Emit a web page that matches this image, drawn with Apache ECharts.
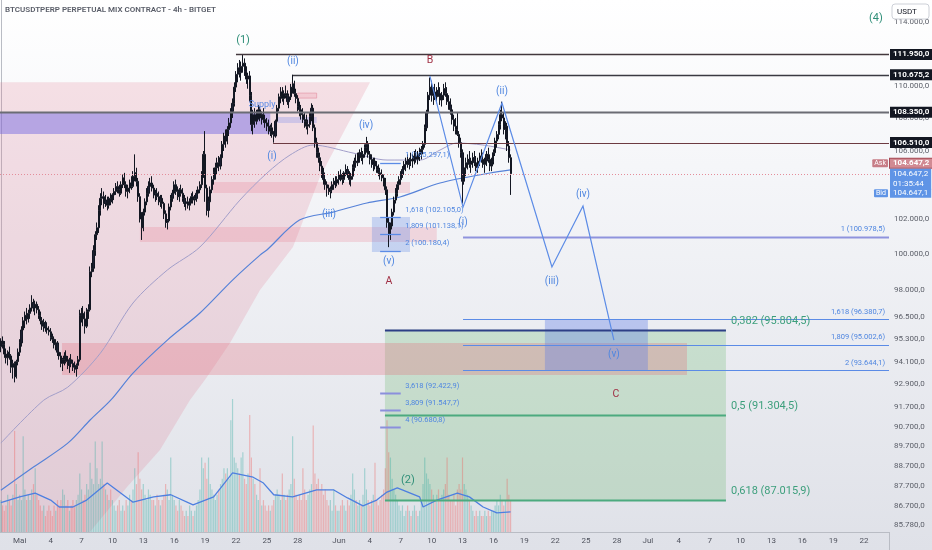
<!DOCTYPE html>
<html><head><meta charset="utf-8">
<script src="https://cdn.jsdelivr.net/npm/echarts@6/dist/echarts.min.js"></script>
<style>
html,body{margin:0;padding:0;}
body{width:932px;height:550px;overflow:hidden;background:linear-gradient(to bottom,#ffffff 0%,#f5f6f9 30%,#dfe1e8 100%);}
#chart{width:932px;height:550px;}
</style></head><body><div id="chart"></div>
<script>
// ================= DATA =================
const startSlotUTC = Date.UTC(2025, 3, 29, 4); // first 4h candle (slot 0)
const slotCount = 518;                            // 4h slots shown on the time axis

const xTickDates  = ['2025-05-01','2025-05-04','2025-05-07','2025-05-10','2025-05-13','2025-05-16','2025-05-19','2025-05-22','2025-05-25','2025-05-28',
                     '2025-06-01','2025-06-04','2025-06-07','2025-06-10','2025-06-13','2025-06-16','2025-06-19','2025-06-22','2025-06-25','2025-06-28',
                     '2025-07-01','2025-07-04','2025-07-07','2025-07-10','2025-07-13','2025-07-16','2025-07-19','2025-07-22'];
const xTickLabels = ['Mai','4','7','10','13','16','19','22','25','28','Jun','4','7','10','13','16','19','22','25','28','Jul','4','7','10','13','16','19','22'];

// 4h candles [open, high, low, close] in tens of USDT
const ohlc = [
[9490,9535,9460,9520],[9520,9545,9480,9500],[9500,9520,9430,9450],[9450,9480,9400,9430],[9430,9470,9390,9460],
[9460,9490,9420,9440],[9440,9450,9350,9380],[9380,9420,9320,9400],[9400,9410,9300,9330],[9330,9420,9320,9410],[9410,9480,9390,9460],
[9460,9530,9440,9510],[9510,9600,9490,9580],[9580,9650,9560,9630],[9630,9680,9590,9660],[9660,9700,9610,9640],[9640,9690,9620,9670],
[9670,9720,9640,9700],[9700,9770,9680,9730],[9730,9750,9680,9700],[9700,9740,9660,9720],[9720,9735,9670,9690],[9690,9710,9640,9660],
[9660,9680,9610,9630],[9630,9650,9580,9600],[9600,9640,9570,9620],[9620,9630,9570,9590],[9590,9610,9560,9580],[9580,9600,9550,9570],
[9570,9590,9520,9540],[9540,9560,9510,9530],[9530,9545,9480,9500],[9500,9530,9470,9510],[9510,9520,9440,9460],[9460,9480,9420,9440],
[9440,9460,9380,9400],[9400,9430,9360,9420],[9420,9460,9390,9440],[9440,9470,9400,9410],[9410,9440,9370,9390],[9390,9430,9350,9420],
[9420,9450,9380,9400],[9400,9420,9360,9380],[9380,9410,9350,9370],[9370,9400,9330,9390],[9390,9440,9370,9420],[9420,9690,9410,9660],
[9660,9700,9620,9670],[9670,9710,9600,9640],[9640,9680,9560,9600],[9600,9700,9590,9680],[9680,9720,9640,9690],[9690,9930,9680,9900],
[9900,9950,9870,9920],[9920,10050,9900,10020],[10020,10130,9990,10110],[10110,10180,10080,10150],[10150,10280,10120,10250],[10250,10350,10220,10320],
[10320,10380,10280,10330],[10330,10360,10260,10290],[10290,10340,10270,10310],[10310,10330,10250,10280],[10280,10330,10260,10320],[10320,10350,10280,10300],
[10300,10350,10290,10340],[10340,10380,10310,10360],[10360,10410,10340,10390],[10390,10420,10350,10370],[10370,10400,10330,10350],[10350,10420,10340,10400],
[10400,10460,10380,10440],[10440,10470,10380,10400],[10400,10420,10330,10360],[10360,10400,10320,10380],[10380,10430,10350,10410],[10410,10450,10370,10390],
[10390,10480,10380,10450],[10450,10580,10420,10470],[10470,10500,10390,10420],[10420,10440,10300,10330],[10330,10350,10180,10200],[10200,10240,10080,10150],
[10150,10260,10130,10240],[10240,10320,10220,10300],[10300,10380,10280,10350],[10350,10420,10330,10390],[10390,10440,10350,10410],[10410,10450,10360,10380],
[10380,10400,10320,10340],[10340,10370,10300,10350],[10350,10380,10310,10330],[10330,10360,10280,10300],[10300,10340,10270,10320],[10320,10340,10260,10290],
[10290,10300,10200,10230],[10230,10250,10150,10180],[10180,10200,10140,10190],[10190,10290,10180,10270],[10270,10340,10250,10320],[10320,10370,10300,10350],
[10350,10420,10330,10400],[10400,10430,10340,10360],[10360,10390,10310,10330],[10330,10380,10300,10370],[10370,10400,10330,10350],[10350,10380,10300,10320],
[10320,10340,10270,10290],[10290,10320,10250,10300],[10300,10330,10260,10280],[10280,10320,10250,10310],[10310,10350,10290,10330],[10330,10360,10290,10310],
[10310,10340,10280,10320],[10320,10370,10300,10350],[10350,10390,10320,10370],[10370,10420,10350,10400],[10400,10480,10380,10460],[10460,10600,10440,10580],
[10580,10720,10300,10380],[10380,10400,10220,10250],[10250,10330,10210,10300],[10300,10390,10280,10370],[10370,10450,10350,10430],[10430,10500,10400,10470],
[10470,10530,10430,10500],[10500,10560,10460,10530],[10530,10570,10480,10510],[10510,10580,10490,10560],[10560,10660,10540,10640],[10640,10710,10600,10690],
[10690,10730,10620,10660],[10660,10750,10640,10730],[10730,10800,10690,10770],[10770,10860,10740,10840],[10840,10920,10800,10890],[10890,11020,10870,10990],
[10990,11090,10960,11070],[11070,11140,11020,11110],[11110,11160,11050,11080],[11080,11150,11030,11120],[11120,11195,11080,11140],[11140,11170,11060,11090],
[11090,11120,11010,11040],[11040,11080,10980,11060],[11060,11090,10900,10940],[10940,10960,10720,10760],[10760,10850,10700,10820],[10820,10860,10740,10780],
[10780,10850,10760,10830],[10830,10880,10790,10850],[10850,10870,10780,10800],[10800,10840,10760,10820],[10820,10860,10770,10790],[10790,10820,10740,10770],
[10770,10800,10720,10750],[10750,10790,10700,10720],[10720,10760,10690,10740],[10740,10770,10680,10700],[10700,10720,10650,10690],[10690,10790,10680,10780],
[10780,10880,10760,10860],[10860,10950,10840,10930],[10930,10990,10890,10960],[10960,10990,10900,10920],[10920,10970,10880,10950],[10950,11000,10920,10940],
[10940,10970,10880,10900],[10900,10950,10860,10930],[10930,11010,10910,10990],[10990,11068,10950,11010],[11010,11030,10930,10950],[10950,10980,10890,10920],
[10920,10940,10840,10870],[10870,10900,10810,10850],[10850,10880,10790,10820],[10820,10860,10770,10790],[10790,10830,10740,10780],[10780,10820,10730,10750],
[10750,10790,10700,10760],[10760,10830,10740,10810],[10810,10890,10780,10860],[10860,10880,10720,10740],[10740,10760,10620,10650],[10650,10680,10560,10590],
[10590,10620,10530,10560],[10560,10590,10480,10510],[10510,10540,10440,10470],[10470,10500,10400,10430],[10430,10460,10370,10400],[10400,10420,10330,10380],
[10380,10400,10340,10360],[10360,10390,10320,10370],[10370,10420,10350,10400],[10400,10440,10370,10420],[10420,10450,10380,10410],[10410,10450,10390,10430],
[10430,10480,10400,10460],[10460,10490,10420,10440],[10440,10470,10400,10430],[10430,10480,10410,10470],[10470,10520,10450,10490],[10490,10510,10440,10460],
[10460,10480,10400,10430],[10430,10470,10390,10450],[10450,10520,10430,10500],[10500,10560,10480,10540],[10540,10580,10500,10530],[10530,10590,10510,10570],
[10570,10610,10530,10590],[10590,10620,10540,10560],[10560,10600,10520,10580],[10580,10640,10560,10620],[10620,10685,10590,10640],[10640,10660,10560,10580],
[10580,10600,10520,10550],[10550,10580,10500,10520],[10520,10560,10480,10540],[10540,10560,10490,10510],[10510,10540,10470,10490],[10490,10520,10450,10470],
[10470,10500,10430,10460],[10460,10490,10420,10440],[10440,10460,10390,10410],[10410,10440,10340,10370],[10370,10390,10150,10180],[10180,10210,10039,10110],
[10110,10180,10080,10160],[10160,10260,10140,10240],[10240,10330,10220,10310],[10310,10380,10290,10350],[10350,10420,10330,10400],[10400,10450,10370,10430],
[10430,10480,10400,10460],[10460,10510,10440,10490],[10490,10540,10460,10520],[10520,10560,10480,10540],[10540,10580,10500,10520],[10520,10560,10490,10550],
[10550,10590,10510,10540],[10540,10580,10500,10560],[10560,10600,10520,10570],[10570,10610,10530,10550],[10550,10600,10520,10580],[10580,10620,10540,10590],
[10590,10630,10550,10610],[10610,10660,10580,10640],[10640,10760,10620,10740],[10740,10850,10720,10830],[10830,10960,10810,10940],[10940,11050,10910,10990],
[10990,11030,10900,10940],[10940,10990,10880,10960],[10960,11010,10910,10930],[10930,10990,10890,10970],[10970,11020,10930,10950],[10950,10990,10880,10910],
[10910,10960,10870,10940],[10940,11010,10910,10980],[10980,11020,10930,10950],[10950,10990,10880,10900],[10900,10940,10850,10880],[10880,10920,10820,10850],
[10850,10880,10760,10790],[10790,10820,10720,10750],[10750,10800,10700,10730],[10730,10830,10690,10700],[10700,10720,10620,10650],[10650,10680,10560,10590],
[10590,10610,10290,10420],[10420,10520,10400,10500],[10500,10560,10450,10530],[10530,10580,10490,10550],[10550,10600,10500,10520],[10520,10560,10470,10540],
[10540,10590,10500,10560],[10560,10600,10510,10530],[10530,10570,10480,10500],[10500,10560,10470,10540],[10540,10590,10510,10570],[10570,10610,10530,10550],
[10550,10590,10500,10520],[10520,10560,10470,10540],[10540,10600,10510,10580],[10580,10620,10530,10550],[10550,10580,10480,10510],[10510,10560,10480,10540],
[10540,10610,10520,10590],[10590,10680,10570,10660],[10660,10720,10620,10700],[10700,10780,10670,10760],[10760,10850,10730,10820],[10820,10900,10780,10800],
[10800,10830,10700,10730],[10730,10780,10670,10750],[10750,10770,10600,10630],[10630,10660,10530,10560],[10560,10580,10340,10465]
];

// volume per candle (relative units)
const volume = [
6,5,4,5,7,
6,5,7,19,9,6,
7,6,18,8,6,7, 6,8,9,12,7,6, 5,4,5,3,4,5, 4,3,5,4,6,5, 6,8,7,5,6,4, 5,6,5,6,7,11,
8,6,7,9,8,13, 10,9,17,12,9,10, 17,9,8,7,6,8, 6,5,4,5,6,4, 5,4,6,5,7,6, 8,12,9,15,10,8,
9,7,6,8,7,6, 6,5,7,6,5,6, 7,9,8,6,14,7, 6,5,4,6,5,4, 3,4,3,5,4,3, 4,5,6,8,14,12,
13,10,14,9,8,7, 6,7,8,9,10,12, 11,12,10,21,25,14, 13,12,11,14,15,10, 9,11,22,14,10,9, 7,6,12,5,6,5,
4,5,4,5,6,7, 8,7,6,11,7,6, 7,8,9,18,10,7, 6,7,6,12,8,6, 7,8,9,20,11,9, 10,8,9,7,8,6, 5,6,4,8,5,4,
4,5,6,5,4,6, 5,7,11,8,6,5, 6,5,7,12,8,6, 5,6,7,13,6,5, 6,7,8,12,21,15, 14,10,8,7,6,5,
4,5,3,4,5,4, 3,4,5,4,3,4, 6,9,14,11,10,9, 8,7,6,7,8,6, 7,8,9,14,7,6, 6,7,5,8,9,8,
14,9,8,7,6,5, 4,3,4,3,4,3, 3,4,3,4,3,4, 4,5,6,5,7,6, 5,6,10,7,6
];

// moving averages, [slot, value]
const maSlow = [[0,87500],[19,88650],[39,89860],[52,91040],[64,92070],[77,93490],[97,95250],[116,96720],[135,98540],[151,99940],[155,100230],
                [174,101940],[193.5,102400],[213.3,102930],[232.6,103280],[255.9,104100],[285,104690],[297,104870]];
const maMid  = [[0,89860],[25,92070],[39,92750],[58,94550],[77,97270],[97,99100],[116,100400],[139.3,103100],[155.1,104690],[168.5,105760],
                [181.9,106360],[205.2,105880],[225,105460],[244.2,105460],[255.9,106060],[265.8,106480],[280.9,106360],[297,106060]];
const volumeMa = [[0,5.5],[11,6.6],[20,7.3],[29,6.0],[34,4.7],[42,4.7],[50,6.0],[62,9.2],[77,5.6],[89,6.6],[99,7.0],[112,5.1],[124,6.6],
                  [135,11.1],[147,10.3],[153,9.2],[159,7.0],[170,6.6],[184,7.9],[194,7.9],[202,6.4],[211,4.9],[219,6.0],[225,7.5],[231,8.3],
                  [244,6.6],[246,4.7],[254,6.0],[266,7.3],[273,6.6],[281,4.7],[289,3.6],[297,3.8]];

// price-scale tick labels and marked levels
const yTickValues = [114000,110000,108000,106000,102000,100000,98000,96500,95300,94100,92900,91700,90700,89700,88700,87700,86700,85780];
const keyLevels = [111950, 110675.2, 108350, 106510];
const askPrice = 104647.2, lastPrice = 104647.2, bidPrice = 104647.1;
const countdown = '01:35:44';

// Fibonacci levels [ratio, price]
const fibExtRight   = [[1,100978.5],[1.618,96380.7],[1.809,95002.6],[2,93644.1]];
const fibRetr       = [[0.382,95804.5],[0.5,91304.5],[0.618,87015.9]];
const fibExtLeftUp  = [[1,105297.1],[1.618,102105.0],[1.809,101138.1],[2,100180.4]];
const fibExtLeftLow = [[3.618,92422.9],[3.809,91547.7],[4,90680.8]];

// projected wave path [slot, price]
const wavePath = [[250,110590],[269.3,102690],[292,108920],[321.1,99270],[339.2,102750],[357.2,95250]];

// ================= CHART =================
const FONT = "Roboto, 'Noto Sans', sans-serif";
const H4 = 4 * 3600 * 1000;
const XMIN = -0.5, XMAX = slotCount - 0.5;
const categories = Array.from({length: slotCount}, (_, i) => new Date(startSlotUTC + i * H4).toISOString().slice(0, 16).replace('T', ' '));
const tickMap = new Map(xTickDates.map((d, k) => [Math.round((Date.parse(d + 'T00:00:00Z') - startSlotUTC) / H4), xTickLabels[k]]));

const candleData = ohlc.map(([o, h, l, c]) => [o * 10, c * 10, l * 10, h * 10]);
const volData = volume.map((v, i) => ({
  value: v,
  itemStyle: {color: ohlc[i][3] >= ohlc[i][0] ? 'rgba(38,166,154,0.34)' : 'rgba(239,83,80,0.34)'}
}));

function deNum(v, d) {
  const parts = v.toFixed(d).split('.');
  return parts[0].replace(/\B(?=(\d{3})+(?!\d))/g, '.') + (parts.length > 1 ? ',' + parts[1] : '');
}
const ratioTxt = r => String(r).replace('.', ',');
const fibTxt = ([r, p]) => ratioTxt(r) + ' (' + deNum(p, 1) + ')';

// pink rising channel outline [slot, price]
const pinkChannel = [[XMIN,110200],[215.1,110200],[185.9,104451],[170.2,100397],[151,97984],[133.5,95091],[120.1,93279],
                     [110.2,92074],[92.7,89507],[73.5,87653],[51.9,85455],[XMIN,85455]];

function zonesRender(params, api) {
  const P = (s, p) => api.coord([s, p]);
  const kids = [];
  kids.push({type: 'polygon', shape: {points: pinkChannel.map(([s, p]) => P(s, p))}, style: {fill: 'rgba(222,105,135,0.19)'}});
  const rect = (s0, s1, pTop, pBot, fill, stroke) => {
    const a = P(s0, pTop), b = P(s1, pBot);
    kids.push({type: 'rect', shape: {x: a[0], y: a[1], width: b[0] - a[0], height: b[1] - a[1]},
      style: {fill: fill, stroke: stroke || null, lineWidth: 1}});
  };
  rect(XMIN, 157, 108350, 107020, 'rgba(112,100,226,0.46)');
  rect(161, 184, 108060, 107690, 'rgba(140,150,232,0.35)');
  rect(173, 184, 109530, 109220, 'rgba(235,130,150,0.22)', 'rgba(220,120,140,0.45)');
  rect(123.6, 238.4, 104160, 103510, 'rgba(232,110,130,0.22)');
  rect(81, 254, 101540, 100680, 'rgba(232,110,130,0.22)');
  rect(223.8, 422.5, fibRetr[0][1], fibRetr[2][1], 'rgba(76,175,80,0.22)');
  rect(35.6, 399.8, 95090, 93390, 'rgba(225,100,115,0.28)');
  rect(216.2, 238.4, 102120, 100110, 'rgba(100,140,230,0.30)');
  rect(317, 377, fibExtRight[1][1], fibExtRight[3][1], 'rgba(95,125,230,0.36)');
  return {type: 'group', children: kids};
}

function drawRender(params, api) {
  const P = (s, p) => api.coord([s, p]);
  const kids = [];
  const hline = (s0, s1, p, stroke, lw, dash) => {
    const a = P(s0, p), b = P(s1, p), y = Math.round(a[1]) + 0.5;
    kids.push({type: 'line', shape: {x1: a[0], y1: y, x2: b[0], y2: y}, style: {stroke: stroke, lineWidth: lw, lineDash: dash || null}});
  };
  const text = (t, x, y, fill, size, o) => {
    o = o || {};
    kids.push({type: 'text', x: x, y: y, z2: o.z2 || 10, style: Object.assign({
      text: t, fill: fill, font: (o.weight || 'normal') + ' ' + size + 'px ' + FONT,
      align: o.align || 'left', verticalAlign: o.va || 'middle'}, o.extra || {})});
  };
  const yOf = p => P(0, p)[1];
  const xOf = s => P(s, 100000)[0];

  // key horizontal levels
  hline(137, XMAX, keyLevels[0], '#43383e', 1.5);
  hline(170.2, XMAX, keyLevels[1], '#3a3a42', 1.5);
  hline(XMIN, XMAX, keyLevels[2], '#6b6c74', 2);
  hline(158.6, XMAX, keyLevels[3], '#6d3b42', 1.2);
  hline(XMIN, XMAX, lastPrice, '#e48d9a', 1, [1, 2]);

  // fib extension (right)
  fibExtRight.forEach((f, k) => {
    hline(269.3, XMAX, f[1], k === 0 ? '#8f93dd' : '#5b8be6', k === 0 ? 2 : 1.2);
    text(fibTxt(f), xOf(XMAX) - 4, yOf(f[1]) - 7.5, '#4f86e0', 7.5, {align: 'right'});
  });
  // retracement box lines
  fibRetr.forEach((f, k) => {
    hline(223.8, 422.5, f[1], k === 0 ? '#2d3f86' : '#4caa7f', 2);
    text(fibTxt(f), xOf(422.5) + 5, yOf(f[1]) - 9, '#3d9f7c', 11);
  });
  // left fib extensions
  fibExtLeftUp.forEach(f => {
    hline(221, 233, f[1], '#5b8be6', 1.3);
    text(fibTxt(f), xOf(235.6), yOf(f[1]) - 7.5, '#4f86e0', 7.5);
  });
  fibExtLeftLow.forEach(f => {
    hline(221, 233, f[1], '#8b8fdc', 2);
    text(fibTxt(f), xOf(235.6), yOf(f[1]) - 7, '#4f86e0', 7.5);
  });

  // projected wave path
  kids.push({type: 'polyline', shape: {points: wavePath.map(([s, p]) => P(s, p))}, style: {stroke: '#5b8be6', lineWidth: 1.2, fill: null}});

  // wave labels [text, slot, price, colour group]
  const waveLabels = [
    ['(1)', 141.1, 112867, 'g'], ['(2)', 237.2, 88000, 'g'], ['(4)', 509.9, 114280, 'g'],
    ['(i)', 158, 105700, 'b'], ['(ii)', 170.2, 111534, 'b'], ['(iii)', 191.2, 102288, 'b'], ['(iv)', 212.8, 107569, 'b'], ['(v)', 226.1, 99605, 'b'],
    ['A', 226.1, 98485, 'r'], ['B', 250, 111598, 'r'],
    ['(i)', 269.3, 101827, 'b'], ['(ii)', 292, 109658, 'b'], ['(iii)', 321.1, 98485, 'b'], ['(iv)', 339.2, 103452, 'b'], ['(v)', 357.2, 94501, 'b'],
    ['C', 358.4, 92386, 'r']
  ];
  const wc = {g: ['#2f8f78', 11], b: ['#4f86e0', 10], r: ['#a03044', 10.5]};
  waveLabels.forEach(([t, s, p, g]) => { const c = P(s, p); text(t, c[0], c[1], wc[g][0], wc[g][1], {align: 'center'}); });
  const sp = P(152.2, 108793);
  text('Supply', sp[0], sp[1], '#5b8be6', 9, {align: 'center'});

  // price scale labels
  const xr = xOf(XMAX);
  yTickValues.forEach(v => text(deNum(v, 1), xr + 5, yOf(v), '#5b5e68', 8));
  keyLevels.forEach(v => text(deNum(v, 1), xr + 1, yOf(v), '#ffffff', 8,
    {weight: 'bold', extra: {backgroundColor: '#131722', padding: [2, 3, 1, 3]}}));
  const yl = yOf(lastPrice);
  text('Ask', xr - 1, yl - 10.5, '#ffffff', 7, {align: 'right', extra: {backgroundColor: '#c77d87', padding: [1, 2, 0, 2], borderRadius: 1}});
  text(deNum(askPrice, 1), xr + 1, yl - 10.5, '#ffffff', 8,
    {weight: 'bold', extra: {backgroundColor: '#d18a93', borderColor: '#a44a55', borderWidth: 1, padding: [1, 3, 0, 3]}});
  text(deNum(lastPrice, 1) + '\n' + countdown, xr + 1, yl - 5, '#ffffff', 8,
    {va: 'top', extra: {backgroundColor: '#5f94e6', padding: [1, 3, 1, 3], lineHeight: 9.5}});
  text('Bid', xr - 1, yl + 19.5, '#ffffff', 7, {align: 'right', extra: {backgroundColor: '#5f94e6', padding: [1, 2, 0, 2], borderRadius: 1}});
  text(deNum(bidPrice, 1), xr + 1, yl + 19.5, '#ffffff', 8, {extra: {backgroundColor: '#5f94e6', padding: [1, 3, 0, 3]}});
  return {type: 'group', children: kids};
}

const chart = echarts.init(document.getElementById('chart'), null, {renderer: 'canvas'});
chart.setOption({
  animation: false,
  backgroundColor: 'transparent',
  grid: {left: 0, right: 43, top: 0, bottom: 18, containLabel: false, outerBoundsMode: 'none'},
  xAxis: [
    {type: 'category', data: categories, boundaryGap: true,
     axisLine: {show: true, lineStyle: {color: '#b9bcc4', width: 1}},
     axisTick: {show: false}, splitLine: {show: false},
     axisLabel: {interval: (i) => tickMap.has(i), formatter: (v, i) => tickMap.get(i) || '',
                 color: '#50535e', fontSize: 8, fontFamily: FONT, margin: 5, hideOverlap: false}},
    {type: 'value', min: XMIN, max: XMAX, show: false}
  ],
  yAxis: [
    {type: 'log', logBase: 10, min: 85455, max: 115450, position: 'right',
     axisLine: {show: true, lineStyle: {color: '#b9bcc4'}}, axisTick: {show: false}, axisLabel: {show: false}, splitLine: {show: false}},
    {type: 'value', min: 0, max: 100, show: false}
  ],
  graphic: [
    {type: 'text', left: 5, top: 6, z: 100, style: {text: 'BTCUSDTPERP PERPETUAL MIX CONTRACT - 4h - BITGET', fill: '#5a5e69', font: '600 8px ' + FONT}},
    {type: 'line', z: 100, shape: {x1: 889.5, y1: 532, x2: 889.5, y2: 550}, style: {stroke: '#b9bcc4', lineWidth: 1}},
    {type: 'rect', z: 100, shape: {x: 892, y: 4, width: 37, height: 15, r: 3}, style: {fill: '#ffffff', stroke: '#cdd0d7', lineWidth: 1}},
    {type: 'text', z: 101, x: 897, y: 11.5, style: {text: 'USDT', fill: '#131722', font: '8px ' + FONT, verticalAlign: 'middle'}}
  ],
  series: [
    {name: 'zones', type: 'custom', xAxisIndex: 1, yAxisIndex: 0, z: 1, silent: true, clip: false,
     data: [[0, 100000]], encode: {x: 0, y: 1}, renderItem: zonesRender},
    {name: 'Volume', type: 'bar', xAxisIndex: 0, yAxisIndex: 1, z: 2, barWidth: 1.2, silent: true, data: volData},
    {name: 'Volume MA', type: 'line', xAxisIndex: 1, yAxisIndex: 1, z: 2, symbol: 'none', silent: true,
     lineStyle: {color: '#4d7fe0', width: 1.3}, data: volumeMa},
    {name: 'MA slow', type: 'line', xAxisIndex: 1, yAxisIndex: 0, z: 3, symbol: 'none', smooth: 0.3, silent: true,
     lineStyle: {color: '#5682d8', width: 1.2}, data: maSlow},
    {name: 'MA mid', type: 'line', xAxisIndex: 1, yAxisIndex: 0, z: 3, symbol: 'none', smooth: 0.3, silent: true,
     lineStyle: {color: '#a29ec9', width: 1}, data: maMid},
    {name: 'BTCUSDT', type: 'candlestick', xAxisIndex: 0, yAxisIndex: 0, z: 4, barWidth: 1.6, silent: true,
     itemStyle: {color: '#1c2033', color0: '#1c2033', borderColor: '#131722', borderColor0: '#131722', borderWidth: 1},
     data: candleData},
    {name: 'drawings', type: 'custom', xAxisIndex: 1, yAxisIndex: 0, z: 5, silent: true, clip: false,
     data: [[0, 100000]], encode: {x: 0, y: 1}, renderItem: drawRender}
  ]
});
</script></body></html>
